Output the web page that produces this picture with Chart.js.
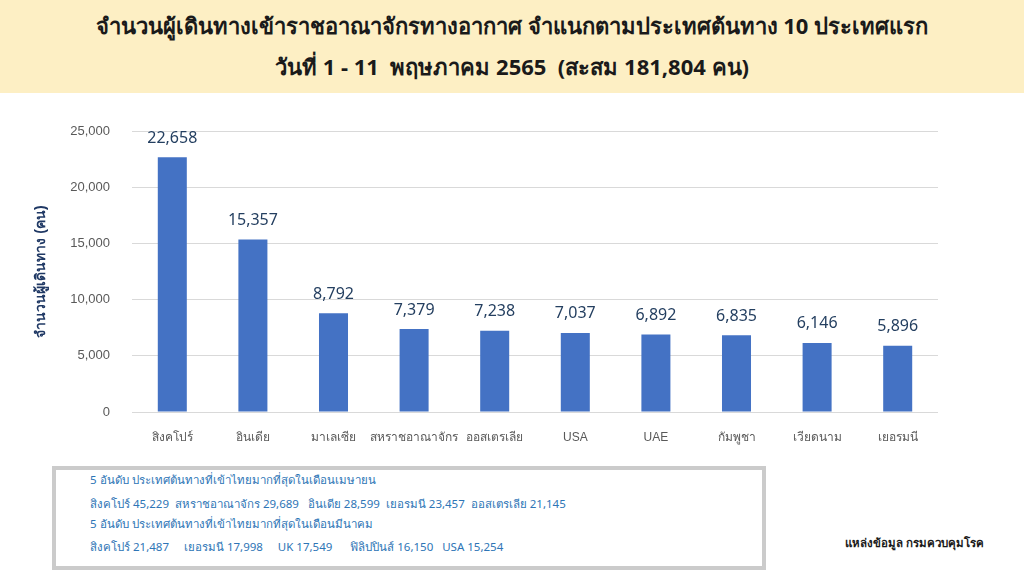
<!DOCTYPE html>
<html>
<head>
<meta charset="utf-8">
<script src="https://cdn.jsdelivr.net/npm/chart.js@4/dist/chart.umd.min.js"></script>
<style>
  html, body { margin: 0; padding: 0; background: #fff; }
  body { width: 1024px; height: 576px; position: relative; overflow: hidden; font-family: Tahoma, "Noto Sans", "DejaVu Sans", sans-serif; }
  .header { position: absolute; left: 0; top: 0; width: 1024px; height: 93px; background: #fdefc4; }
  .header p { margin: 0; position: absolute; left: 0; width: 1024px; text-align: center; font-weight: bold; font-size: 22px; color: #1a1a1a; white-space: pre; }
  #chartWrap { position: absolute; left: 0; top: 100px; width: 1024px; height: 350px; }
  .note { position: absolute; left: 52px; top: 466px; width: 706px; height: 96px; border: 4px solid #cbcbcb; box-sizing: content-box; }
  .note p { margin: 0; position: absolute; left: 34px; font-size: 11.5px; color: #2e75b6; white-space: pre; }
  .source { position: absolute; left: 845px; top: 534px; font-size: 11.5px; font-weight: bold; color: #1a1a1a; }
</style>
</head>
<body>
<div class="header">
  <p style="top:9px">จำนวนผู้เดินทางเข้าราชอาณาจักรทางอากาศ จำแนกตามประเทศต้นทาง 10 ประเทศแรก</p>
  <p style="top:50px">วันที่ 1 - 11  พฤษภาคม 2565  (สะสม 181,804 คน)</p>
</div>
<div id="chartWrap"><canvas id="chart"></canvas></div>
<div class="note">
  <p style="top:1px">5 อันดับ ประเทศต้นทางที่เข้าไทยมากที่สุดในเดือนเมษายน</p>
  <p style="top:25px">สิงคโปร์ 45,229  สหราชอาณาจักร 29,689   อินเดีย 28,599  เยอรมนี 23,457  ออสเตรเลีย 21,145</p>
  <p style="top:45px">5 อันดับ ประเทศต้นทางที่เข้าไทยมากที่สุดในเดือนมีนาคม</p>
  <p style="top:68px">สิงคโปร์ 21,487     เยอรมนี 17,998     UK 17,549      ฟิลิปปินส์ 16,150   USA 15,254</p>
</div>
<div class="source">แหล่งข้อมูล กรมควบคุมโรค</div>
<script>
const countries = ['สิงคโปร์', 'อินเดีย', 'มาเลเซีย', 'สหราชอาณาจักร', 'ออสเตรเลีย', 'USA', 'UAE', 'กัมพูชา', 'เวียดนาม', 'เยอรมนี'];
const travellers = [22658, 15357, 8792, 7379, 7238, 7037, 6892, 6835, 6146, 5896];
const yTicks = [0, 5000, 10000, 15000, 20000, 25000];

const fmt = (v) => v.toLocaleString('en-US');

// draws the value above each bar
const barValues = {
  id: 'barValues',
  afterDatasetsDraw(chart) {
    const { ctx } = chart;
    const meta = chart.getDatasetMeta(0);
    ctx.save();
    ctx.font = '16px Tahoma, "Noto Sans", "DejaVu Sans", sans-serif';
    ctx.fillStyle = '#243f60';
    ctx.textAlign = 'center';
    ctx.textBaseline = 'bottom';
    meta.data.forEach((bar, i) => {
      ctx.fillText(fmt(travellers[i]), bar.x, bar.y - 11);
    });
    ctx.restore();
  }
};

new Chart(document.getElementById('chart'), {
  type: 'bar',
  data: {
    labels: countries,
    datasets: [{
      data: travellers,
      backgroundColor: '#4472c4',
      barPercentage: 0.45,
      categoryPercentage: 0.8
    }]
  },
  options: {
    responsive: true,
    maintainAspectRatio: false,
    animation: false,
    layout: { padding: { top: 31, right: 86 } },
    plugins: { legend: { display: false }, tooltip: { enabled: false } },
    scales: {
      x: {
        grid: { display: false },
        border: { display: false },
        ticks: { color: '#595959', font: { size: 12 }, padding: 10, maxRotation: 0, autoSkip: false },
        afterFit: (scale) => { scale.height = 38; }
      },
      y: {
        min: 0,
        max: 25000,
        afterBuildTicks: (scale) => { scale.ticks = yTicks.map((v) => ({ value: v })); },
        grid: { color: '#d9d9d9', drawTicks: false },
        border: { display: false },
        ticks: { color: '#595959', font: { size: 13 }, padding: 22, callback: (v) => fmt(v) },
        title: {
          display: true,
          text: 'จำนวนผู้เดินทาง (คน)',
          color: '#1f3864',
          font: { size: 14, weight: 'bold' },
          padding: { top: 33, bottom: 0 }
        },
        afterFit: (scale) => { scale.width = 132; }
      }
    }
  },
  plugins: [barValues]
});
</script>
</body>
</html>
